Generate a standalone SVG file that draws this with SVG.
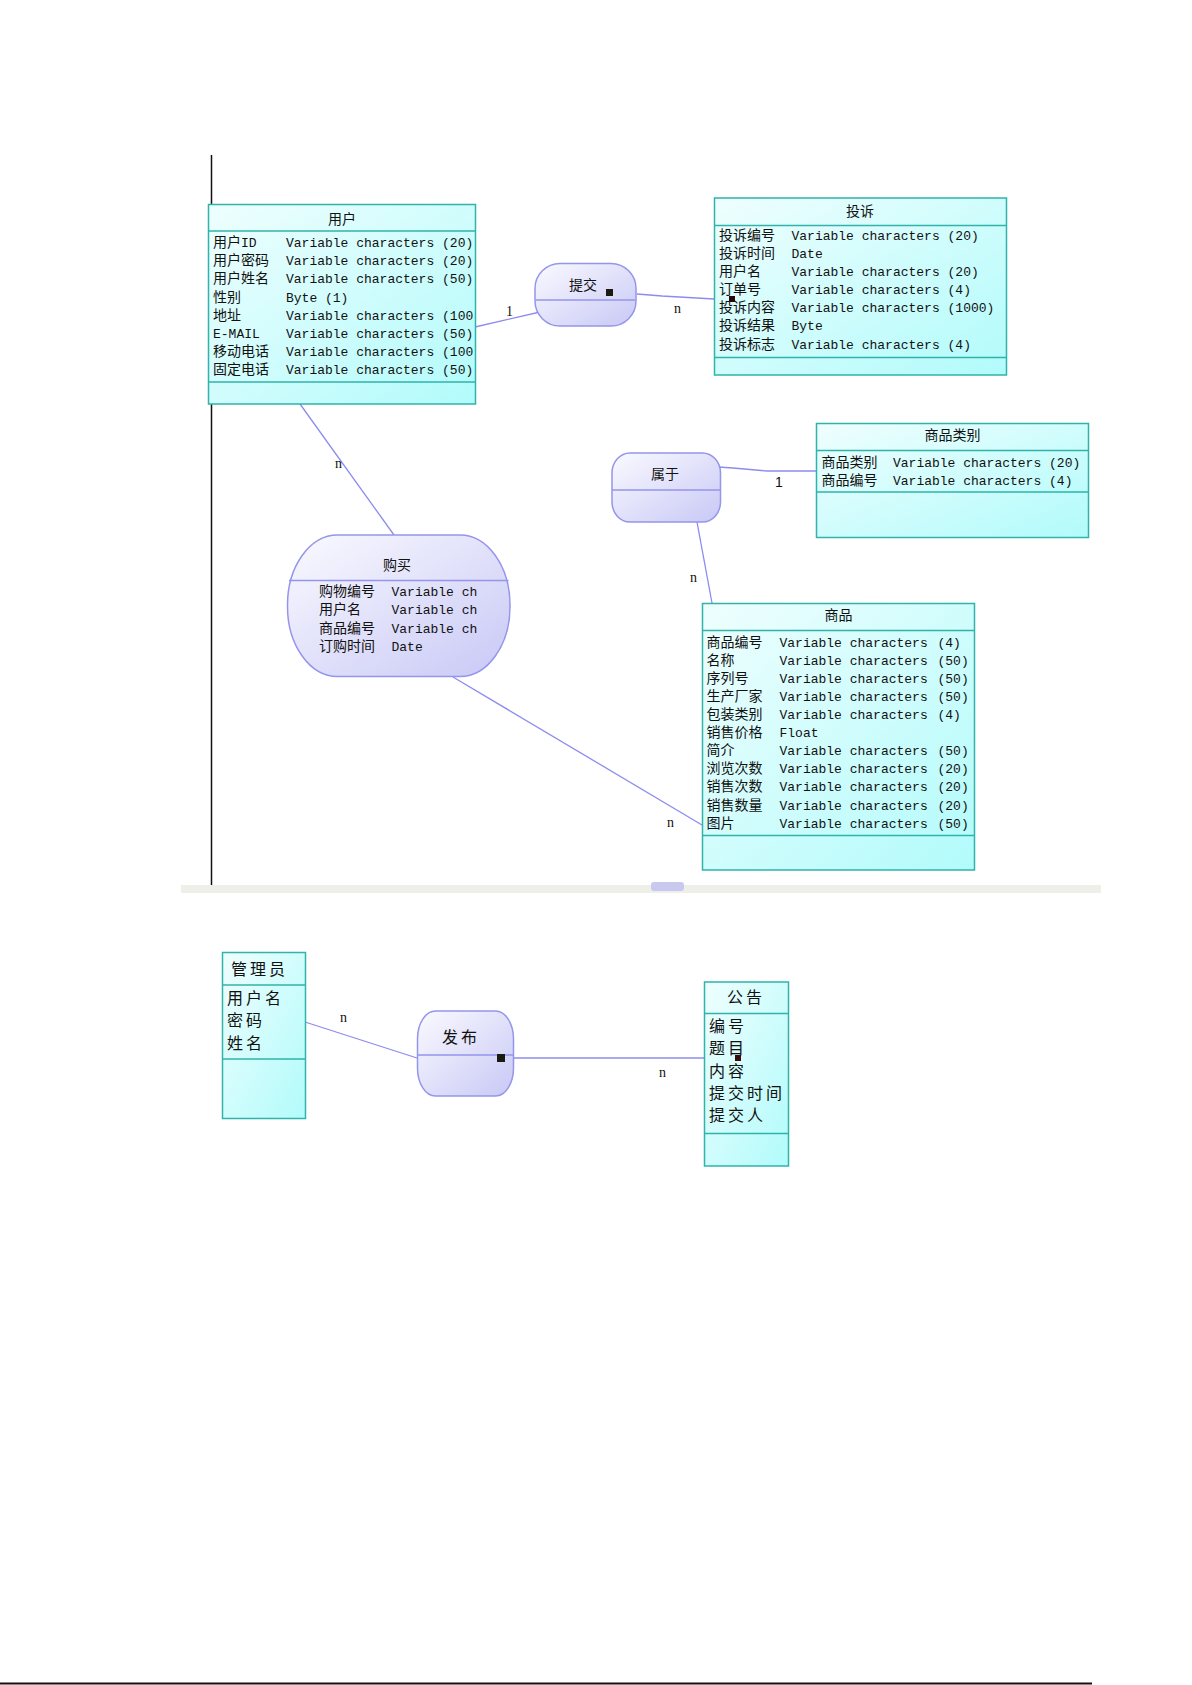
<svg xmlns="http://www.w3.org/2000/svg" width="1192" height="1685" viewBox="0 0 1192 1685">
<defs>
<linearGradient id="ent" x1="0" y1="0" x2="1" y2="1">
<stop offset="0" stop-color="#effefe"/>
<stop offset="1" stop-color="#b2fbfb"/>
</linearGradient>
<linearGradient id="rel" x1="0" y1="0" x2="1" y2="1">
<stop offset="0" stop-color="#fafaff"/>
<stop offset="1" stop-color="#c8c8f6"/>
</linearGradient>
</defs>
<style>
.ent{fill:url(#ent);stroke:#2fb3aa;stroke-width:1.5}
.sep{stroke:#2fb3aa;stroke-width:1.5}
.rel{fill:url(#rel);stroke:#9595ec;stroke-width:1.5}
.rsep{stroke:#9595ec;stroke-width:1.5}
.con{stroke:#8c8cf0;stroke-width:1.3;fill:none}
.cj{font-family:"Noto Sans CJK SC","Liberation Sans",sans-serif;font-size:14px;fill:#111}
.ti{font-family:"Noto Sans CJK SC","Liberation Sans",sans-serif;font-size:14px;fill:#111;text-anchor:middle}
.mo{font-family:"Liberation Mono",monospace;font-size:13px;fill:#111}
.big{font-family:"Noto Sans CJK SC","Liberation Sans",sans-serif;font-size:16px;fill:#111;letter-spacing:3px}
.lab{font-family:"Liberation Serif",serif;font-size:14px;fill:#111}
.mk{fill:#1a1a10}
</style>
<rect x="0" y="0" width="1192" height="1685" fill="#ffffff"/>
<line x1="211.5" y1="155" x2="211.5" y2="885" stroke="#111" stroke-width="1.5"/>
<rect x="181" y="885" width="920" height="8" fill="#efefea"/>
<rect x="651" y="882" width="33" height="9" rx="3" fill="#c9c9f0"/>
<line x1="0" y1="1683.5" x2="1092" y2="1683.5" stroke="#111" stroke-width="2"/>

<g id="connectors">
<line class="con" x1="300" y1="404" x2="394" y2="535"/>
<line class="con" x1="475" y1="327" x2="540" y2="312"/>
<polyline class="con" points="637,294 662,296 714,299"/>
<polyline class="con" points="718,467 733,468 767,471 817,471"/>
<line class="con" x1="697" y1="522" x2="712" y2="603"/>
<line class="con" x1="453" y1="677" x2="702" y2="825"/>
<line class="con" x1="305" y1="1022" x2="417" y2="1058"/>
<line class="con" x1="513" y1="1058" x2="704" y2="1058"/>
<text class="lab" x="506" y="316" font-size="11">1</text>
<text class="lab" x="674" y="313">n</text>
<text class="lab" x="335" y="468">n</text>
<text x="775" y="487" font-family="Liberation Sans,sans-serif" font-size="14" fill="#111">1</text>
<text class="lab" x="690" y="582">n</text>
<text class="lab" x="667" y="827">n</text>
<text class="lab" x="340" y="1022" font-size="16">n</text>
<text class="lab" x="659" y="1077" font-size="16">n</text>
</g>

<g id="yonghu">
<rect class="ent" x="208.5" y="204.5" width="267" height="199.5"/>
<line class="sep" x1="208.5" y1="231" x2="475.5" y2="231"/>
<line class="sep" x1="208.5" y1="382" x2="475.5" y2="382"/>
<text class="ti" x="342" y="223.5">用户</text>
<text class="cj" x="213" y="247">用户<tspan class="mo">ID</tspan></text>
<text class="cj" x="213" y="265">用户密码</text>
<text class="cj" x="213" y="283">用户姓名</text>
<text class="cj" x="213" y="301.5">性别</text>
<text class="cj" x="213" y="319.5">地址</text>
<text class="mo" x="213" y="337.5">E-MAIL</text>
<text class="cj" x="213" y="356">移动电话</text>
<text class="cj" x="213" y="374">固定电话</text>
<text class="mo" x="286" y="247">Variable characters (20)</text>
<text class="mo" x="286" y="265">Variable characters (20)</text>
<text class="mo" x="286" y="283">Variable characters (50)</text>
<text class="mo" x="286" y="301.5">Byte (1)</text>
<text class="mo" x="286" y="319.5">Variable characters (100</text>
<text class="mo" x="286" y="337.5">Variable characters (50)</text>
<text class="mo" x="286" y="356">Variable characters (100</text>
<text class="mo" x="286" y="374">Variable characters (50)</text>
</g>

<g id="tijiao">
<rect class="rel" x="535" y="263.5" width="101" height="62.5" rx="25" ry="25"/>
<line class="rsep" x1="535.5" y1="300" x2="635.5" y2="300"/>
<text class="ti" x="583" y="290" font-size="15">提交</text>
<rect class="mk" x="606" y="289" width="7" height="7"/>
</g>

<g id="tousu">
<rect class="ent" x="714.5" y="198" width="292" height="177"/>
<line class="sep" x1="714.5" y1="225.5" x2="1006.5" y2="225.5"/>
<line class="sep" x1="714.5" y1="357.5" x2="1006.5" y2="357.5"/>
<text class="ti" x="860" y="216">投诉</text>
<text class="cj" x="719" y="240">投诉编号</text>
<text class="cj" x="719" y="258">投诉时间</text>
<text class="cj" x="719" y="276">用户名</text>
<text class="cj" x="719" y="294">订单号</text>
<text class="cj" x="719" y="312">投诉内容</text>
<text class="cj" x="719" y="330">投诉结果</text>
<text class="cj" x="719" y="348.5">投诉标志</text>
<text class="mo" x="791.5" y="240">Variable characters (20)</text>
<text class="mo" x="791.5" y="258">Date</text>
<text class="mo" x="791.5" y="276">Variable characters (20)</text>
<text class="mo" x="791.5" y="294">Variable characters (4)</text>
<text class="mo" x="791.5" y="312">Variable characters (1000)</text>
<text class="mo" x="791.5" y="330">Byte</text>
<text class="mo" x="791.5" y="348.5">Variable characters (4)</text>
<rect x="729" y="296" width="6" height="6" fill="#2a0808"/>
</g>

<g id="shuyu">
<rect class="rel" x="612" y="453" width="108.5" height="69" rx="18" ry="20"/>
<line class="rsep" x1="612" y1="490" x2="720.5" y2="490"/>
<text class="ti" x="665" y="478.5">属于</text>
</g>

<g id="shangpinleibie">
<rect class="ent" x="816.5" y="423.5" width="272" height="114"/>
<line class="sep" x1="816.5" y1="450.5" x2="1088.5" y2="450.5"/>
<line class="sep" x1="816.5" y1="492" x2="1088.5" y2="492"/>
<text class="ti" x="952.5" y="440">商品类别</text>
<text class="cj" x="821.5" y="467">商品类别</text>
<text class="cj" x="821.5" y="485">商品编号</text>
<text class="mo" x="893" y="467">Variable characters (20)</text>
<text class="mo" x="893" y="485">Variable characters (4)</text>
</g>

<g id="goumai">
<rect class="rel" x="287.5" y="535" width="222.5" height="141.5" rx="50" ry="70"/>
<line class="rsep" x1="289" y1="580.5" x2="508.5" y2="580.5"/>
<text class="ti" x="397" y="570">购买</text>
<text class="cj" x="319" y="596">购物编号</text>
<text class="cj" x="319" y="614">用户名</text>
<text class="cj" x="319" y="632.5">商品编号</text>
<text class="cj" x="319" y="650.5">订购时间</text>
<text class="mo" x="391.5" y="596">Variable ch</text>
<text class="mo" x="391.5" y="614">Variable ch</text>
<text class="mo" x="391.5" y="632.5">Variable ch</text>
<text class="mo" x="391.5" y="650.5">Date</text>
</g>

<g id="shangpin">
<rect class="ent" x="702.5" y="603.5" width="272" height="266.5"/>
<line class="sep" x1="702.5" y1="630.5" x2="974.5" y2="630.5"/>
<line class="sep" x1="702.5" y1="835.5" x2="974.5" y2="835.5"/>
<text class="ti" x="838.5" y="620">商品</text>
<text class="cj" x="706.5" y="647">商品编号</text>
<text class="cj" x="706.5" y="665">名称</text>
<text class="cj" x="706.5" y="683">序列号</text>
<text class="cj" x="706.5" y="701">生产厂家</text>
<text class="cj" x="706.5" y="719">包装类别</text>
<text class="cj" x="706.5" y="737">销售价格</text>
<text class="cj" x="706.5" y="755">简介</text>
<text class="cj" x="706.5" y="773">浏览次数</text>
<text class="cj" x="706.5" y="791">销售次数</text>
<text class="cj" x="706.5" y="809.5">销售数量</text>
<text class="cj" x="706.5" y="827.5">图片</text>
<text class="mo" x="779.5" y="647">Variable characters</text>
<text class="mo" x="779.5" y="665">Variable characters</text>
<text class="mo" x="779.5" y="683">Variable characters</text>
<text class="mo" x="779.5" y="701">Variable characters</text>
<text class="mo" x="779.5" y="719">Variable characters</text>
<text class="mo" x="779.5" y="737">Float</text>
<text class="mo" x="779.5" y="755">Variable characters</text>
<text class="mo" x="779.5" y="773">Variable characters</text>
<text class="mo" x="779.5" y="791">Variable characters</text>
<text class="mo" x="779.5" y="809.5">Variable characters</text>
<text class="mo" x="779.5" y="827.5">Variable characters</text>
<text class="mo" x="937.5" y="647">(4)</text>
<text class="mo" x="937.5" y="665">(50)</text>
<text class="mo" x="937.5" y="683">(50)</text>
<text class="mo" x="937.5" y="701">(50)</text>
<text class="mo" x="937.5" y="719">(4)</text>
<text class="mo" x="937.5" y="755">(50)</text>
<text class="mo" x="937.5" y="773">(20)</text>
<text class="mo" x="937.5" y="791">(20)</text>
<text class="mo" x="937.5" y="809.5">(20)</text>
<text class="mo" x="937.5" y="827.5">(50)</text>
</g>

<g id="guanliyuan">
<rect class="ent" x="222.5" y="952.5" width="83" height="166"/>
<line class="sep" x1="222.5" y1="985" x2="305.5" y2="985"/>
<line class="sep" x1="222.5" y1="1059" x2="305.5" y2="1059"/>
<text class="big" x="231" y="975">管理员</text>
<text class="big" x="227" y="1004">用户名</text>
<text class="big" x="227" y="1026">密码</text>
<text class="big" x="227" y="1049">姓名</text>
</g>

<g id="fabu">
<rect class="rel" x="417.5" y="1011" width="96" height="85" rx="18" ry="28"/>
<line class="rsep" x1="417.5" y1="1055" x2="513.5" y2="1055"/>
<text class="big" x="442" y="1043">发布</text>
<rect class="mk" x="497" y="1054" width="8" height="8"/>
</g>

<g id="gonggao">
<rect class="ent" x="704.5" y="982" width="84" height="184"/>
<line class="sep" x1="704.5" y1="1013.5" x2="788.5" y2="1013.5"/>
<line class="sep" x1="704.5" y1="1133.5" x2="788.5" y2="1133.5"/>
<text class="big" x="727" y="1003">公告</text>
<text class="big" x="709" y="1032" letter-spacing="2.5">编号</text>
<text class="big" x="709" y="1054" letter-spacing="2.5">题目</text>
<text class="big" x="709" y="1077" letter-spacing="2.5">内容</text>
<text class="big" x="709" y="1099" letter-spacing="2.5">提交时间</text>
<text class="big" x="709" y="1121" letter-spacing="2.5">提交人</text>
<rect x="735" y="1055" width="6" height="6" fill="#3a0a0a"/>
</g>
</svg>
